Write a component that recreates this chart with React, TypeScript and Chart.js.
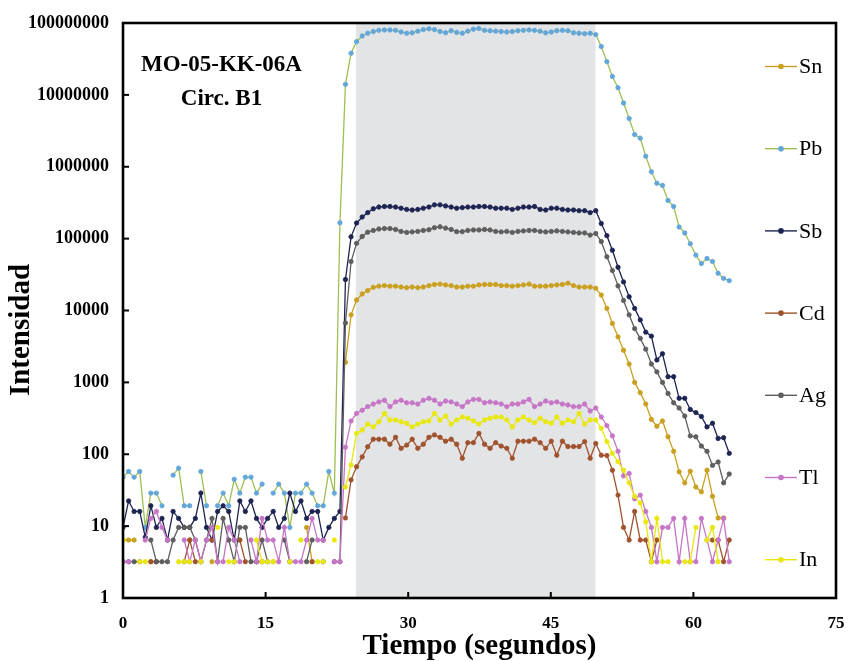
import { useEffect, useRef } from 'react';
import { Chart, registerables } from 'chart.js';

Chart.register(...registerables);

// ---------- DATA ----------
const TIME = [
  0, 0.59, 1.17, 1.76, 2.34, 2.93, 3.51, 4.1, 4.68, 5.27,
  5.85, 6.44, 7.02, 7.61, 8.19, 8.78, 9.36, 9.95, 10.53, 11.12,
  11.7, 12.29, 12.87, 13.46, 14.04, 14.63, 15.21, 15.8, 16.38, 16.97,
  17.55, 18.14, 18.72, 19.31, 19.89, 20.48, 21.06, 21.65, 22.23, 22.82,
  23.4, 23.99, 24.57, 25.16, 25.74, 26.33, 26.91, 27.5, 28.08, 28.67,
  29.25, 29.84, 30.42, 31.01, 31.59, 32.18, 32.76, 33.35, 33.93, 34.52,
  35.1, 35.69, 36.27, 36.86, 37.44, 38.03, 38.61, 39.2, 39.78, 40.37,
  40.95, 41.54, 42.12, 42.71, 43.29, 43.88, 44.46, 45.05, 45.63, 46.22,
  46.8, 47.39, 47.97, 48.56, 49.14, 49.73, 50.31, 50.9, 51.48, 52.07,
  52.65, 53.24, 53.82, 54.41, 54.99, 55.58, 56.16, 56.75, 57.33, 57.92,
  58.5, 59.09, 59.67, 60.26, 60.84, 61.43, 62.01, 62.6, 63.18, 63.77,
];

const SN = [
  6.4, 6.4, 6.4, null, null, 3.2, 3.2, null, null, null,
  null, null, 6.4, null, null, null, 3.2, null, null, null,
  null, 6.4, null, null, 3.2, null, null, 3.2, null, null,
  null, null, null, 9.6, 3.2, null, null, null, null, null,
  1900, 8700, 14000, 17000, 19000, 21000, 21800, 22200, 21800, 21800,
  21200, 20800, 21200, 20800, 21200, 22200, 23000, 23300, 22700, 22200,
  21200, 21200, 21800, 21800, 22700, 23000, 23000, 23000, 22200, 22200,
  21800, 22200, 22700, 23300, 21800, 21800, 21800, 22200, 22700, 23000,
  24000, 22200, 21200, 21200, 21200, 20400, 16400, 10700, 6600, 4300,
  2800, 1800, 1000, 720, 500, 305, 245, 290, 175, 110,
  57, 40, 58, 35, 30, 60, 26, 13, 13, null,
];

const PB = [
  48, 57.6, 48, 57.6, 9.6, 28.8, 28.8, 19.2, null, 51.2,
  64, 19.2, 19.2, null, 57.6, 19.2, null, 19.2, 28.8, 19.2,
  44.8, 28.8, 48, 48, 28.8, 38.4, null, 28.8, 38.4, 28.8,
  9.6, 28.8, 28.8, 38.4, 28.8, 19.2, 19.2, 57.6, 28.8, 166000,
  14000000, 38000000, 55000000, 66000000, 72000000, 76000000, 79000000, 80000000, 80000000, 79000000,
  75000000, 72000000, 73000000, 77000000, 81000000, 83000000, 81000000, 76000000, 73000000, 78000000,
  74000000, 72000000, 77000000, 82000000, 84000000, 79000000, 78000000, 77000000, 76000000, 75000000,
  76000000, 78000000, 79000000, 80000000, 79000000, 77000000, 73000000, 75000000, 78000000, 79000000,
  78000000, 73000000, 72000000, 71000000, 72000000, 69000000, 47000000, 29000000, 18000000, 12600000,
  7700000, 4700000, 2800000, 2500000, 1400000, 850000, 590000, 550000, 340000, 280000,
  145000, 120000, 85000, 59000, 45000, 53000, 48000, 33000, 28000, 26000,
];

const SB = [
  9.6, 22.4, 16, 16, 7, 19.2, 9.6, 12.8, 6.4, 16,
  12.8, 9.6, 9.6, 12.8, 28.8, 9.6, 6.4, 16, 19.2, 16,
  6.4, 22.4, 16, 22.4, 12.8, 9.6, 12.8, 16, 9.6, 12.8,
  28.8, 16, 22.4, 12.8, 16, 16, 6.4, 9.6, 12.8, 16,
  27000, 106000, 165000, 200000, 230000, 260000, 275000, 280000, 280000, 275000,
  265000, 255000, 250000, 255000, 265000, 275000, 295000, 295000, 285000, 275000,
  265000, 270000, 275000, 275000, 280000, 280000, 275000, 265000, 265000, 265000,
  255000, 265000, 275000, 275000, 280000, 255000, 250000, 265000, 265000, 255000,
  250000, 250000, 245000, 245000, 230000, 245000, 162000, 110000, 69000, 40000,
  25000, 15500, 10700, 7400, 5000, 4400, 2050, 2500, 1200, 1200,
  600, 600, 420, 380, 335, 240, 270, 166, 170, 103,
];

const CD = [
  null, null, null, null, null, 3.2, 3.2, null, null, null,
  null, 3.2, 6.4, 3.2, null, null, 6.4, null, null, null,
  null, 6.4, 3.2, null, 3.2, 3.2, null, null, null, null,
  null, null, null, null, 3.2, null, null, null, null, null,
  13, 44, 67, 92, 127, 162, 162, 162, 138, 172,
  121, 134, 162, 121, 138, 172, 186, 172, 152, 162,
  138, 88, 145, 145, 195, 138, 121, 145, 130, 121,
  88, 152, 152, 152, 162, 145, 121, 152, 97, 152,
  128, 128, 128, 150, 88, 141, 97, 96, 60, 27,
  9.6, 6.4, 16, 6.4, 6.4, 3.2, 6.4, null, null, null,
  null, null, null, null, null, null, 6.4, 6.4, 3.2, 6.4,
];

const AG = [
  3.2, 3.2, 3.2, 3.2, null, 6.4, 3.2, 3.2, 3.2, 6.4,
  9.6, 9.6, 9.6, 6.4, 3.2, 6.4, 12.8, 3.2, 12.8, 6.4,
  3.2, 9.6, 9.6, 3.2, 3.2, 6.4, 3.2, null, null, 6.4,
  3.2, null, null, 3.2, 6.4, null, 3.2, null, 3.2, 3.2,
  6700, 48000, 86000, 107000, 123000, 130000, 136000, 138000, 138000, 134000,
  126000, 122000, 124000, 126000, 130000, 133000, 142000, 146000, 140000, 134000,
  125000, 125000, 130000, 132000, 132000, 134000, 132000, 126000, 124000, 126000,
  122000, 126000, 128000, 130000, 130000, 126000, 124000, 126000, 128000, 126000,
  124000, 122000, 120000, 120000, 112000, 118000, 91000, 56000, 36000, 22000,
  13800, 8700, 5600, 4100, 2900, 1800, 1400, 1000, 700, 520,
  440, 340, 180, 175, 130, 110, 70, 78, 40, 53,
];

const TL = [
  3.2, 3.2, null, null, 6.4, 12.8, 16, 9.6, 6.4, null,
  null, 6.4, 3.2, 6.4, 3.2, 6.4, 9.6, 3.2, 3.2, 9.6,
  6.4, 3.2, null, 6.4, 3.2, 12.8, 6.4, 6.4, 3.2, 9.6,
  3.2, 3.2, 3.2, 6.4, 12.8, 6.4, 6.4, null, 3.2, 3.2,
  125, 290, 370, 410, 460, 500, 535, 565, 460, 535,
  565, 520, 520, 500, 565, 600, 565, 500, 550, 535,
  500, 460, 535, 580, 580, 520, 535, 520, 500, 460,
  500, 500, 535, 580, 460, 500, 550, 520, 535, 500,
  485, 460, 460, 500, 400, 440, 330, 250, 180, 110,
  50, 54, 24, 27, 16, 9.6, 3.2, 9.6, 9.6, 12.8,
  3.2, 12.8, 3.2, 3.2, 12.8, 6.4, 3.2, 6.4, 12.8, 3.2,
];

const IN = [
  6.4, null, null, 3.2, 3.2, null, null, null, null, null,
  3.2, 3.2, 3.2, null, 3.2, null, null, 9.6, null, 3.2,
  3.2, null, null, null, 6.4, 3.2, 3.2, 3.2, null, null,
  3.2, null, 6.4, null, null, 3.2, 3.2, null, 6.4, null,
  35, 71, 195, 217, 263, 240, 283, 370, 300, 300,
  283, 270, 240, 263, 283, 290, 370, 300, 340, 263,
  300, 330, 318, 290, 263, 300, 318, 330, 330, 300,
  240, 300, 330, 300, 275, 318, 283, 270, 330, 270,
  300, 283, 370, 263, 300, 300, 230, 150, 103, 79,
  60, 40, 26, 21, 11.5, 3.2, 12.8, 3.2, 3.2, null,
  null, 3.2, 3.2, 9.6, null, 6.4, 9.6, 3.2, null, null,
];

const SERIES_NAMES = ['Sn', 'Pb', 'Sb', 'Cd', 'Ag', 'Tl', 'In'];
const SERIES_VALUES = [SN, PB, SB, CD, AG, TL, IN];

const X_TICKS = [0, 15, 30, 45, 60, 75];
const Y_TICKS = [1, 10, 100, 1000, 10000, 100000, 1000000, 10000000, 100000000];
const BAND_RANGE = [24.5, 49.7];

const SAMPLE_LINES = ['MO-05-KK-06A', 'Circ. B1'];
const X_TITLE = 'Tiempo (segundos)';
const Y_TITLE = 'Intensidad';

// ---------- STYLE ----------
const FONT = "'Liberation Serif', 'Times New Roman', serif";
const LINE_COLORS = ['#C9A020', '#9EBF55', '#1E2452', '#A0522D', '#5E5E5E', '#C676C6', '#E8E810'];
const POINT_COLORS = ['#C9A020', '#62A6DA', '#1E2452', '#A0522D', '#5E5E5E', '#C676C6', '#E8E810'];
const BAND_COLOR = '#E3E4E6';

const W = 848;
const H = 661;

const decorPlugin = {
  id: 'decor',
  beforeDatasetsDraw(chart: any) {
    const { ctx, chartArea: a, scales } = chart;
    const x0 = scales.x.getPixelForValue(BAND_RANGE[0]);
    const x1 = scales.x.getPixelForValue(BAND_RANGE[1]);
    ctx.save();
    ctx.fillStyle = BAND_COLOR;
    ctx.fillRect(x0, a.top, x1 - x0, a.bottom - a.top);
    ctx.restore();
  },
  afterDraw(chart: any) {
    const { ctx, chartArea: a, scales } = chart;
    ctx.save();
    // frame
    ctx.strokeStyle = '#000';
    ctx.lineWidth = 2.6;
    ctx.strokeRect(a.left, a.top, a.right - a.left, a.bottom - a.top);
    // inward tick marks
    ctx.lineWidth = 2;
    X_TICKS.slice(1, -1).forEach((v) => {
      const px = scales.x.getPixelForValue(v);
      ctx.beginPath();
      ctx.moveTo(px, a.bottom);
      ctx.lineTo(px, a.bottom - 6);
      ctx.stroke();
    });
    Y_TICKS.slice(1, -1).forEach((v) => {
      const py = scales.y.getPixelForValue(v);
      ctx.beginPath();
      ctx.moveTo(a.left, py);
      ctx.lineTo(a.left + 6, py);
      ctx.stroke();
    });

    // sample annotation
    ctx.fillStyle = '#000';
    ctx.font = `bold 23px ${FONT}`;
    ctx.textAlign = 'center';
    ctx.textBaseline = 'middle';
    ctx.fillText(SAMPLE_LINES[0], 221.5, 65.5);
    ctx.fillText(SAMPLE_LINES[1], 221.5, 99.5);

    // y title
    ctx.save();
    ctx.translate(22, 330);
    ctx.rotate(-Math.PI / 2);
    ctx.font = `bold 29px ${FONT}`;
    ctx.fillText(Y_TITLE, 0, 0);
    ctx.restore();

    // legend
    const ds = chart.data.datasets;
    ds.forEach((d: any, i: number) => {
      const yy = 66.5 + i * 82.2;
      ctx.strokeStyle = d.borderColor;
      ctx.lineWidth = 1.4;
      ctx.beginPath();
      ctx.moveTo(765, yy);
      ctx.lineTo(797, yy);
      ctx.stroke();
      ctx.fillStyle = d.pointBackgroundColor;
      ctx.beginPath();
      ctx.arc(781, yy, 2.8, 0, Math.PI * 2);
      ctx.fill();
      ctx.fillStyle = '#000';
      ctx.font = `22px ${FONT}`;
      ctx.textAlign = 'left';
      ctx.textBaseline = 'middle';
      ctx.fillText(d.label, 799, yy + 1);
    });
    ctx.restore();
  },
};

export default function App() {
  const ref = useRef<HTMLCanvasElement>(null);

  useEffect(() => {
    const canvas = ref.current;
    if (!canvas) return;
    const datasets = SERIES_NAMES.map((name, i) => ({
      label: name,
      data: SERIES_VALUES[i].map((v, k) => ({ x: TIME[k], y: v })),
      borderColor: LINE_COLORS[i],
      backgroundColor: POINT_COLORS[i],
      pointBackgroundColor: POINT_COLORS[i],
      pointBorderColor: POINT_COLORS[i],
      pointRadius: 2.2,
      pointBorderWidth: 0.8,
      borderWidth: 1.3,
      tension: 0,
      spanGaps: false,
      order: SERIES_NAMES.length - 1 - i,
    }));

    const chart = new Chart(canvas, {
      type: 'line',
      data: { datasets } as any,
      options: {
        animation: false,
        responsive: false,
        events: [],
        layout: { padding: { left: 0, top: 23, right: 12, bottom: 0 } },
        plugins: { legend: { display: false }, tooltip: { enabled: false } },
        scales: {
          x: {
            type: 'linear',
            min: 0,
            max: 75,
            afterFit: (s: any) => {
              s.height = 63;
              s.paddingLeft = 0;
              s.paddingRight = 0;
            },
            afterBuildTicks: (s: any) => {
              s.ticks = X_TICKS.map((v) => ({ value: v }));
            },
            ticks: {
              font: { family: FONT, size: 17, weight: 'bold' },
              color: '#000',
              padding: 15,
              maxRotation: 0,
            },
            grid: { display: false, drawTicks: false },
            border: { display: false },
            title: {
              display: true,
              text: X_TITLE,
              color: '#000',
              font: { family: FONT, size: 29, weight: 'bold', lineHeight: 1 },
              padding: { top: 0, bottom: 0 },
            },
          },
          y: {
            type: 'logarithmic',
            min: 1,
            max: 100000000,
            afterFit: (s: any) => {
              s.width = 123;
              s.paddingTop = 0;
              s.paddingBottom = 0;
            },
            afterBuildTicks: (s: any) => {
              s.ticks = Y_TICKS.map((v) => ({ value: v }));
            },
            ticks: {
              font: { family: FONT, size: 18, weight: 'bold' },
              color: '#000',
              padding: 14,
              callback: (v: any) => Number(v).toFixed(0),
            },
            grid: { display: false, drawTicks: false },
            border: { display: false },
          },
        },
      } as any,
      plugins: [decorPlugin],
    });
    return () => chart.destroy();
  }, []);

  return (
    <div style={{ position: 'absolute', left: 0, top: 0, width: W, height: H, background: '#fff' }}>
      <canvas ref={ref} width={W} height={H} style={{ display: 'block' }} />
    </div>
  );
}
